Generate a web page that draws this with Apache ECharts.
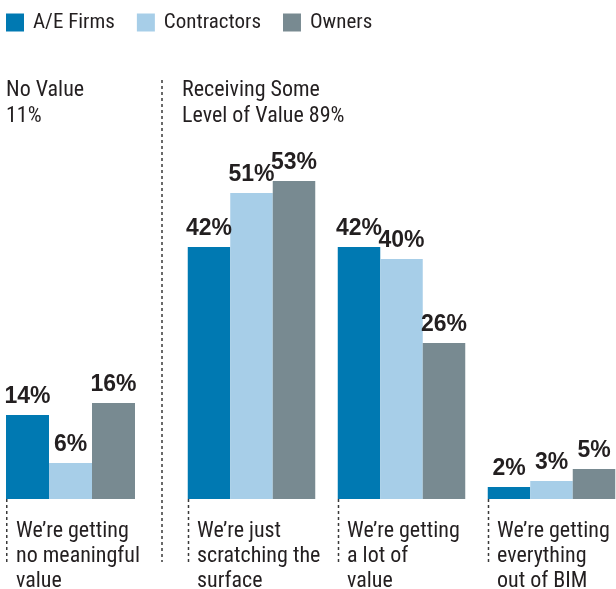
<!DOCTYPE html>
<html>
<head>
<meta charset="utf-8">
<script src="https://cdn.jsdelivr.net/npm/echarts@6/dist/echarts.min.js"></script>
<style>
  html, body { margin: 0; padding: 0; background: #fff; }
  #chart { width: 616px; height: 589px; }
</style>
</head>
<body>
<div id="chart"></div>
<script>
// data
const seriesNames = ["A/E Firms", "Contractors", "Owners"];
const noValueCats = ["We\u2019re getting\nno meaningful\nvalue"];
const someValueCats = [
    "We\u2019re just\nscratching the\nsurface",
    "We\u2019re getting\na lot of\nvalue",
    "We\u2019re getting\neverything\nout of BIM",
];
const aeNoValue = [14];
const contractorsNoValue = [6];
const ownersNoValue = [16];
const aeSomeValue = [42, 42, 2];
const contractorsSomeValue = [51, 40, 3];
const ownersSomeValue = [53, 26, 5];
const noValueHeader = "No Value\n11%";
const someValueHeader = "Receiving Some\nLevel of Value 89%";

const colors = ["#0079b2", "#a7cee8", "#788a91"];
const textColor = "#231f20";
const condensed = "'Liberation Sans Narrow', 'Roboto Condensed', 'DejaVu Sans Condensed', Roboto, sans-serif";

const chart = echarts.init(document.getElementById("chart"));

function barLabel() {
    return {
        show: true,
        position: "top",
        distance: 7,
        formatter: "{c}%",
        color: textColor,
        fontFamily: "'Liberation Sans', Arial, sans-serif",
        fontWeight: "bold",
        fontSize: 23,
    };
}

function makeSeries(name, data, idx, gridIdx, barWidth) {
    return {
        name: name,
        type: "bar",
        xAxisIndex: gridIdx,
        yAxisIndex: gridIdx,
        data: data,
        barWidth: barWidth,
        barGap: "0%",
        itemStyle: { color: colors[idx] },
        label: barLabel(),
        emphasis: { disabled: true },
    };
}

function xAxisFor(cats, gridIdx) {
    return {
        type: "category",
        gridIndex: gridIdx,
        data: cats,
        axisLine: { show: false },
        axisTick: { show: false },
        axisLabel: {
            interval: 0,
            align: "left",
            margin: 20,
            padding: [0, 0, 0, -54.5],
            color: textColor,
            fontFamily: condensed,
            fontSize: 22,
            lineHeight: 25,
            hideOverlap: false,
        },
    };
}

function yAxisFor(gridIdx) {
    return {
        type: "value",
        gridIndex: gridIdx,
        min: 0,
        max: 60,
        show: false,
        splitLine: { show: false },
    };
}

const legendWidths = [86, 112, 80];

const option = {
    animation: false,
    backgroundColor: "#fff",
    legend: {
        left: 6,
        top: 12,
        padding: 0,
        itemWidth: 18,
        itemHeight: 18,
        itemGap: 22,
        icon: "rect",
        selectedMode: false,
        data: seriesNames.map((n, i) => ({
            name: n,
            textStyle: { width: legendWidths[i] },
        })),
        textStyle: {
            color: textColor,
            fontFamily: condensed,
            fontSize: 21,
            padding: [0, 0, 0, 4],
        },
    },
    grid: [
        { left: 0, width: 141, top: 139, bottom: 90, outerBoundsMode: "none" },
        { left: 176.5, width: 450, top: 139, bottom: 90, outerBoundsMode: "none" },
    ],
    xAxis: [xAxisFor(noValueCats, 0), xAxisFor(someValueCats, 1)],
    yAxis: [yAxisFor(0), yAxisFor(1)],
    series: [
        makeSeries(seriesNames[0], aeNoValue, 0, 0, 43),
        makeSeries(seriesNames[1], contractorsNoValue, 1, 0, 43),
        makeSeries(seriesNames[2], ownersNoValue, 2, 0, 43),
        makeSeries(seriesNames[0], aeSomeValue, 0, 1, 42.5),
        makeSeries(seriesNames[1], contractorsSomeValue, 1, 1, 42.5),
        makeSeries(seriesNames[2], ownersSomeValue, 2, 1, 42.5),
    ],
};
chart.setOption(option);

// dashed guides at the left edge of each group, plus headers
const dash = { stroke: "#3a3a3a", lineWidth: 1.5, lineDash: [3, 3] };
const baseY = chart.convertToPixel({ yAxisIndex: 0 }, 0);
const graphics = [];
function groupEdge(axisIdx, cat, barW) {
    return chart.convertToPixel({ xAxisIndex: axisIdx }, cat) - 1.5 * barW;
}
const edges = [groupEdge(0, noValueCats[0], 43)].concat(
    someValueCats.map((c) => groupEdge(1, c, 42.5))
);
edges.forEach((x) => {
    graphics.push({
        type: "line",
        shape: { x1: x + 0.75, y1: baseY, x2: x + 0.75, y2: 562 },
        style: dash,
        silent: true,
    });
});
graphics.push({
    type: "line",
    shape: { x1: 162, y1: 80, x2: 162, y2: 562 },
    style: dash,
    silent: true,
});
const headerStyle = {
    fill: textColor,
    font: "22px " + condensed,
    lineHeight: 26,
};
graphics.push({
    type: "text",
    left: 6,
    top: 77,
    style: Object.assign({ text: noValueHeader }, headerStyle),
});
graphics.push({
    type: "text",
    left: 182,
    top: 77,
    style: Object.assign({ text: someValueHeader }, headerStyle),
});
chart.setOption({ graphic: graphics });
</script>
</body>
</html>
